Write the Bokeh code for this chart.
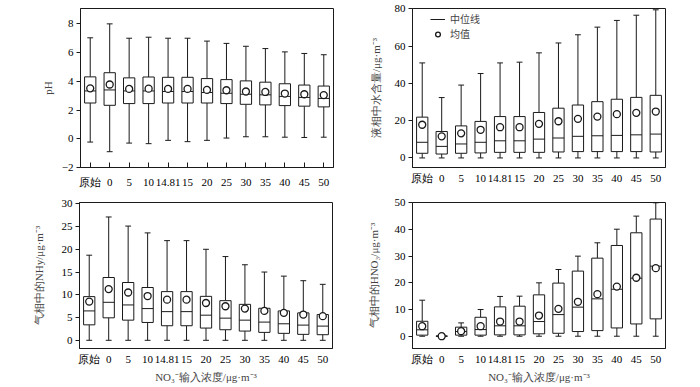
from bokeh.plotting import figure
from bokeh.layouts import column, row
from bokeh.models import Range1d, FixedTicker, Legend, LegendItem
from bokeh.embed import file_html
from bokeh.resources import INLINE

categories = ["原始", "0", "5", "10", "14.81", "15", "20", "25", "30", "35", "40", "45", "50"]

# pH
ph_low = [-0.23, -0.9, -0.3, -0.34, -0.11, -0.2, -0.11, 0.05, 0.14, 0.14, 0.11, 0.09, 0.11]
ph_q1 = [2.49, 2.33, 2.45, 2.45, 2.49, 2.49, 2.49, 2.45, 2.40, 2.36, 2.31, 2.27, 2.22]
ph_med = [3.33, 3.40, 3.33, 3.33, 3.29, 3.29, 3.22, 3.17, 3.10, 3.06, 2.95, 2.88, 2.81]
ph_q3 = [4.31, 4.60, 4.24, 4.30, 4.28, 4.28, 4.19, 4.12, 4.03, 3.94, 3.83, 3.74, 3.67]
ph_high = [7.03, 8.0, 7.0, 7.07, 7.0, 7.0, 6.8, 6.64, 6.44, 6.28, 6.05, 5.94, 5.85]
ph_mean = [3.51, 3.78, 3.47, 3.49, 3.47, 3.47, 3.40, 3.38, 3.29, 3.26, 3.15, 3.10, 3.04]

# liquid water content
lwc_low = [0.0] * 13
lwc_q1 = [2.5, 2.1, 2.5, 2.7, 3.0, 3.0, 3.0, 3.2, 3.4, 3.4, 3.4, 3.4, 3.2]
lwc_med = [8.4, 6.2, 7.5, 8.4, 9.2, 9.2, 10.1, 10.7, 11.6, 11.9, 12.1, 12.4, 12.8]
lwc_q3 = [21.9, 14.2, 17.2, 19.6, 22.2, 22.2, 24.4, 26.7, 28.4, 30.2, 31.5, 32.5, 33.6]
lwc_high = [51.0, 32.4, 39.1, 45.3, 51.0, 51.4, 56.4, 61.7, 66.1, 70.2, 73.8, 76.6, 79.5]
lwc_mean = [17.8, 11.6, 13.2, 15.1, 16.5, 16.5, 18.3, 19.7, 21.0, 22.2, 23.5, 24.2, 24.9]

# NHy gas
nh_low = [0.0] * 13
nh_q1 = [3.4, 4.94, 4.43, 3.92, 3.2, 3.2, 2.69, 2.32, 2.03, 1.74, 1.53, 1.31, 1.23]
nh_med = [6.46, 8.35, 7.77, 6.97, 6.3, 6.3, 5.52, 4.87, 4.43, 4.0, 3.63, 3.34, 3.12]
nh_q3 = [9.6, 13.8, 12.7, 11.6, 10.7, 10.7, 9.66, 8.71, 7.9, 7.04, 6.46, 6.03, 5.66]
nh_high = [18.7, 27.1, 25.1, 23.6, 21.9, 21.9, 20.0, 18.4, 16.6, 15.0, 14.1, 13.1, 12.3]
nh_mean = [8.5, 11.26, 10.5, 9.73, 8.93, 8.93, 8.2, 7.48, 6.97, 6.46, 6.03, 5.66, 5.3]

# HNO3 gas
hn_low = [0.0] * 13
hn_q1 = [0.4, 0.0, 0.4, 0.4, 0.5, 0.5, 0.9, 1.1, 1.75, 2.1, 3.1, 4.6, 6.5]
hn_med = [2.4, 0.0, 1.75, 2.5, 3.9, 3.9, 5.5, 8.1, 10.9, 14.0, 17.6, 21.75, 26.25]
hn_q3 = [5.6, 0.1, 3.4, 7.1, 11.0, 11.25, 15.5, 19.9, 24.4, 29.25, 34.0, 38.75, 43.9]
hn_high = [13.5, 0.1, 5.0, 10.0, 14.9, 15.0, 20.0, 25.0, 30.0, 35.0, 40.1, 45.0, 50.0]
hn_mean = [3.75, 0.0, 1.9, 3.75, 5.5, 5.5, 7.75, 10.25, 12.9, 15.75, 18.6, 21.9, 25.5]

ph_ticks = [-2, 0, 2, 4, 6, 8]
lwc_ticks = [0, 20, 40, 60, 80]
nh_ticks = [0, 5, 10, 15, 20, 25, 30]
hn_ticks = [0, 10, 20, 30, 40, 50]

XLABEL = "NO₃⁻输入浓度/μg·m⁻³"
SERIF = "Liberation Serif"
CJK = "Noto Sans CJK SC"
INK = "#1a1a1a"
BOX_W = 0.58
CAP_W = 0.3


def panel(low, q1, med, q3, high, mean, yr, ticks, ylabel, lab_font, lab_standoff,
          w, h, bl, br, bt, bb, xticks_in, xlabel=None, legend=False):
    p = figure(width=w, height=h, output_backend="svg", toolbar_location=None,
               x_range=Range1d(-0.5, len(categories) - 0.5), y_range=Range1d(*yr),
               min_border_left=bl, min_border_right=br, min_border_top=bt,
               min_border_bottom=bb)
    idx = list(range(len(categories)))
    p.segment(x0=idx, x1=idx, y0=q3, y1=high, line_color=INK, line_width=1)
    p.segment(x0=idx, x1=idx, y0=low, y1=q1, line_color=INK, line_width=1)
    p.segment(x0=[i - CAP_W / 2 for i in idx], x1=[i + CAP_W / 2 for i in idx],
              y0=high, y1=high, line_color=INK, line_width=1)
    p.segment(x0=[i - CAP_W / 2 for i in idx], x1=[i + CAP_W / 2 for i in idx],
              y0=low, y1=low, line_color=INK, line_width=1)
    p.vbar(x=idx, width=BOX_W, bottom=q1, top=q3, fill_color="white",
           line_color=INK, line_width=1)
    med_r = p.segment(x0=[i - BOX_W / 2 for i in idx], x1=[i + BOX_W / 2 for i in idx],
                      y0=med, y1=med, line_color=INK, line_width=1)
    mean_r = p.scatter(idx, mean, marker="circle", size=7, fill_color="white",
                       line_color=INK, line_width=1.3)

    p.xgrid.visible = False
    p.ygrid.visible = False
    p.outline_line_color = INK
    p.outline_line_width = 1
    p.background_fill_color = "white"
    p.border_fill_color = "white"

    xa = p.xaxis[0]
    xa.ticker = FixedTicker(ticks=idx)
    xa.major_label_overrides = {i: c for i, c in zip(idx, categories)}
    xa.minor_tick_line_color = None
    xa.axis_line_color = INK
    xa.major_tick_line_color = INK
    xa.major_tick_in = 5 if xticks_in else 0
    xa.major_tick_out = 0
    xa.major_label_text_font = SERIF
    xa.major_label_text_font_size = "11px"
    xa.major_label_text_color = "black"
    xa.major_label_standoff = 8 if xticks_in else 4
    if xlabel:
        xa.axis_label = xlabel
        xa.axis_label_text_font = SERIF
        xa.axis_label_text_font_size = "11px"
        xa.axis_label_text_font_style = "normal"
        xa.axis_label_standoff = 3

    ya = p.yaxis[0]
    ya.ticker = FixedTicker(ticks=ticks)
    ya.minor_tick_line_color = None
    ya.axis_line_color = INK
    ya.major_tick_line_color = INK
    ya.major_tick_in = 0
    ya.major_tick_out = 4
    ya.major_label_text_font = SERIF
    ya.major_label_text_font_size = "11px"
    ya.major_label_text_color = "black"
    ya.major_label_standoff = 3
    ya.axis_label = ylabel
    ya.axis_label_text_font = lab_font
    ya.axis_label_text_font_size = "11px"
    ya.axis_label_text_font_style = "normal"
    ya.axis_label_standoff = lab_standoff

    if legend:
        lg = Legend(items=[LegendItem(label="中位线", renderers=[med_r]),
                           LegendItem(label="均值", renderers=[mean_r])],
                    location=(18, 126), border_line_color=None,
                    background_fill_alpha=0, padding=2, spacing=0,
                    glyph_width=15, glyph_height=12, label_height=12,
                    label_standoff=5, label_text_font=CJK,
                    label_text_font_size="10px", margin=0)
        p.add_layout(lg, "center")
    return p


p1 = panel(ph_low, ph_q1, ph_med, ph_q3, ph_high, ph_mean, (-2, 9.07), ph_ticks,
           "pH", SERIF, 5, 350, 190, 80, 17, 5, 22, True)
p2 = panel(lwc_low, lwc_q1, lwc_med, lwc_q3, lwc_high, lwc_mean, (-5.13, 80.2),
           lwc_ticks, "液相中水含量/μg·m⁻³", SERIF, 10, 350, 190, 62, 35, 8, 22,
           False, legend=True)
p3 = panel(nh_low, nh_q1, nh_med, nh_q3, nh_high, nh_mean, (-1.8, 30.28), nh_ticks,
           "气相中的NHy/μg·m⁻³", SERIF, 14, 350, 197, 79, 18, 11, 39, False,
           xlabel=XLABEL)
p4 = panel(hn_low, hn_q1, hn_med, hn_q3, hn_high, hn_mean, (-4.6, 50.1), hn_ticks,
           "气相中的HNO₃/μg·m⁻³", SERIF, 12, 350, 197, 62, 35, 12, 39, False,
           xlabel=XLABEL)

layout = column(row(p1, p2), row(p3, p4))
open("out.html", "w").write(file_html(layout, INLINE))
